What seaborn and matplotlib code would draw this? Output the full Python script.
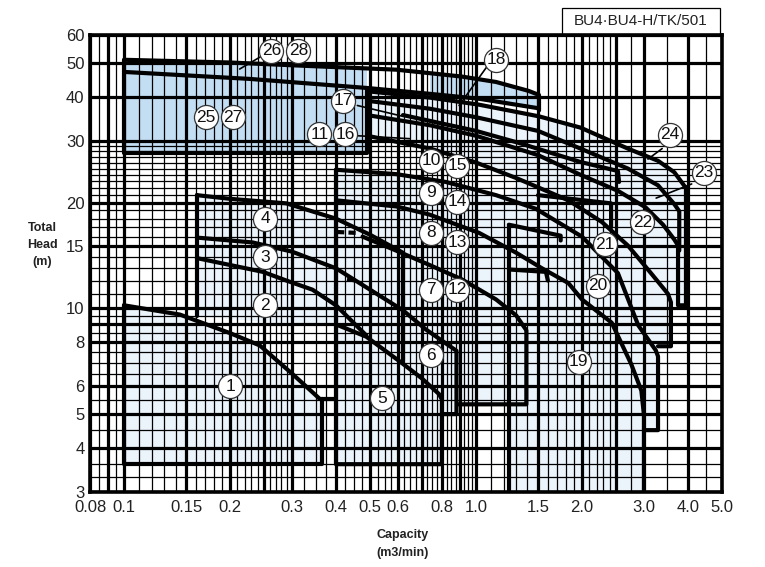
import matplotlib
matplotlib.use("Agg")
import matplotlib.pyplot as plt
import seaborn as sns
import pandas as pd
from matplotlib.patches import Rectangle, Polygon

# ---------------- data (capacity m3/min, total head m) ----------------
x_ticks = [0.08, 0.1, 0.15, 0.2, 0.3, 0.4, 0.5, 0.6, 0.8, 1.0, 1.5, 2.0, 3.0, 4.0, 5.0]
x_tick_labels = ["0.08", "0.1", "0.15", "0.2", "0.3", "0.4", "0.5", "0.6", "0.8",
                 "1.0", "1.5", "2.0", "3.0", "4.0", "5.0"]
y_ticks = [3, 4, 5, 6, 8, 10, 15, 20, 30, 40, 50, 60]
y_tick_labels = ["3", "4", "5", "6", "8", "10", "15", "20", "30", "40", "50", "60"]

x_major = [0.08, 0.09, 0.1, 0.15, 0.2, 0.25, 0.3, 0.4, 0.5, 0.6, 0.7, 0.8, 0.9, 1.0,
           1.5, 2.0, 2.5, 3.0, 4.0, 5.0]
x_minor = [0.085, 0.095, 0.11, 0.12, 0.13, 0.14, 0.16, 0.17, 0.18, 0.19, 0.21, 0.22,
           0.23, 0.24, 0.26, 0.27, 0.28, 0.29, 0.325, 0.35, 0.375, 0.425, 0.45, 0.475,
           0.525, 0.55, 0.575, 0.625, 0.65, 0.675, 0.725, 0.75, 0.775, 0.825, 0.85,
           0.875, 0.925, 0.95, 0.975, 1.1, 1.2, 1.3, 1.4, 1.6, 1.7, 1.8, 1.9, 2.1, 2.2,
           2.3, 2.4, 2.75, 3.5, 4.5]
y_major = [3, 4, 5, 6, 8, 9, 10, 15, 20, 30, 40, 50, 60]
y_minor = [3.3, 3.6, 4.5, 5.5, 6.5, 7, 7.5, 8.5, 9.5, 11, 12, 13, 14, 16, 17, 18, 19,
           21, 22, 23, 24, 25, 26, 27, 28, 29]

# pump 1
p1_q = [0.1, 0.144, 0.20, 0.243, 0.301, 0.36, 0.40]
p1_h = [10.2, 9.6, 8.5, 7.84, 6.5, 5.52, 5.52]
p1_box_q = [0.365, 0.365, 0.1, 0.1]
p1_box_h = [5.52, 3.6, 3.6, 10.2]
# pumps 2-4
p4_q = [0.161, 0.20, 0.289, 0.40, 0.50, 0.62, 0.62]
p4_h = [21.0, 20.5, 19.9, 18.0, 16.2, 14.4, 7.1]
p3_q = [0.161, 0.232, 0.30, 0.40, 0.50, 0.62, 0.72, 0.88, 0.88, 0.80]
p3_h = [15.9, 15.4, 14.5, 13.0, 11.3, 9.87, 8.71, 7.57, 5.0, 5.0]
p2_q = [0.161, 0.248, 0.289, 0.343, 0.40, 0.488]
p2_h = [13.9, 12.7, 12.0, 11.3, 10.2, 8.37]
edge24_q = [0.161, 0.161]
edge24_h = [9.5, 21.0]
# pumps 5-6
p5_q = [0.40, 0.488, 0.605, 0.70, 0.785, 0.80, 0.80, 0.40, 0.40]
p5_h = [9.0, 8.3, 7.08, 6.33, 5.7, 5.5, 3.6, 3.6, 24.8]
# pumps 7-8 / 12-13
p8_dash_q = [0.40, 0.455]
p8_dash_h = [16.5, 16.4]
p8_q = [0.476, 0.593, 0.736, 0.91, 1.14, 1.30, 1.39, 1.39, 0.89]
p8_h = [16.0, 14.6, 13.3, 12.1, 10.6, 9.55, 8.66, 5.33, 5.33]
p7_dash_q = [0.43, 0.455]
p7_dash_h = [12.1, 12.0]
# pumps 9/14 -> 19
p19_q = [0.40, 0.594, 0.736, 1.02, 1.30, 1.54, 1.83, 2.0, 2.43, 2.76, 2.95, 3.0, 3.0]
p19_h = [20.3, 19.5, 18.5, 16.4, 14.4, 13.0, 11.8, 10.6, 9.1, 6.94, 5.83, 4.97, 3.0]
# pumps 10/15 -> 20
p20_q = [0.40, 0.594, 0.82, 1.14, 1.48, 2.0, 2.53, 2.89, 3.24, 3.29, 3.29, 3.0]
p20_h = [24.8, 24.1, 22.9, 21.0, 19.2, 16.0, 12.6, 8.95, 7.6, 7.3, 4.5, 4.5]
# pump 21
p21_q = [0.49, 0.74, 1.0, 1.3, 1.83, 2.28, 2.70, 3.14, 3.51, 3.58, 3.58, 3.29]
p21_h = [31.0, 28.5, 26.0, 23.5, 20.3, 17.6, 15.1, 12.6, 11.0, 10.4, 7.8, 7.8]
# pump 22
p22_q = [0.49, 0.74, 1.0, 1.5, 1.98, 2.53, 3.03, 3.40, 3.66, 3.75, 3.75, 3.98]
p22_h = [35.5, 33.2, 31.0, 27.3, 24.0, 21.6, 19.4, 17.3, 15.7, 15.1, 10.2, 10.2]
# pump 23
p23_q = [0.49, 0.74, 1.0, 1.5, 1.98, 2.70, 3.29, 3.66, 3.78, 3.78]
p23_h = [39.0, 37.0, 35.0, 32.0, 28.5, 25.0, 22.4, 19.8, 18.9, 14.6]
# pump 24
p24_q = [0.49, 0.74, 1.02, 1.51, 1.98, 2.70, 3.29, 3.66, 3.95, 3.95]
p24_h = [41.5, 39.8, 38.0, 35.2, 32.7, 28.5, 26.3, 24.4, 22.0, 10.2]
# pumps 16/17 short curves with end hooks
p17_q = [0.62, 1.0, 1.32, 1.98, 2.53, 2.55]
p17_h = [35.5, 32.0, 29.6, 26.1, 24.6, 22.9]
hook_a_q = [1.24, 1.74, 1.74]
hook_a_h = [17.3, 16.1, 15.6]
hook_b_q = [1.24, 1.58, 1.60]
hook_b_h = [12.9, 12.7, 12.0]
hook_c_q = [1.5, 2.42, 2.42]
hook_c_h = [21.0, 19.9, 17.0]
edge19_q = [1.24, 1.24]
edge19_h = [3.0, 17.3]
# pumps 25-28 (top box) and 18
t1_q = [0.1, 0.2, 0.3, 0.594, 0.91, 1.14, 1.41, 1.51, 1.51]
t1_h = [51.0, 50.1, 49.2, 47.8, 45.7, 44.1, 41.6, 40.5, 36.6]
t2_q = [0.1, 0.227, 0.49, 0.74, 1.02, 1.51]
t2_h = [47.1, 45.0, 42.4, 40.8, 39.5, 37.1]
box_q = [0.1, 0.1, 0.49, 0.49]
box_h = [51.0, 27.6, 27.6, 42.4]

# pale fill regions
r1_q = [0.1, 0.144, 0.20, 0.243, 0.301, 0.365, 0.365, 0.1]
r1_h = [10.2, 9.6, 8.5, 7.84, 6.5, 5.52, 3.6, 3.6]
r2_q = [0.161, 0.20, 0.289, 0.40, 0.50, 0.62, 0.62, 0.488, 0.40, 0.30, 0.161]
r2_h = [21.0, 20.5, 19.9, 18.0, 16.2, 14.4, 7.1, 8.3, 9.0, 9.0, 9.5]
r5_q = [0.4, 0.4, 0.594, 0.82, 1.14, 1.39, 1.39, 0.88, 0.88, 0.80, 0.80]
r5_h = [3.6, 24.8, 24.1, 22.9, 21.0, 19.7, 5.33, 5.33, 5.0, 5.0, 3.6]
r19_q = [1.24, 1.24, 1.5, 1.98, 2.53, 3.03, 3.40, 3.75, 3.75, 3.58, 3.58, 3.29, 3.29,
         3.0, 3.0]
r19_h = [3.0, 21.0, 27.3, 24.0, 21.6, 19.4, 17.3, 15.1, 10.2, 10.2, 7.8, 7.8, 4.5,
         4.5, 3.0]
ru_q = [0.49, 0.74, 1.02, 1.51, 1.98, 2.70, 3.29, 3.66, 3.95, 3.95, 3.58, 3.51, 3.14,
        2.70, 2.28, 1.83, 1.3, 1.0, 0.74, 0.49]
ru_h = [41.5, 39.8, 38.0, 35.2, 32.7, 28.5, 26.3, 24.4, 22.0, 10.2, 10.2, 11.0, 12.6,
        15.1, 17.6, 20.3, 23.5, 26.0, 28.5, 31.0]
# blue regions
rbox_q = [0.1, 0.1, 0.2, 0.3, 0.49, 0.49]
rbox_h = [27.6, 51.0, 50.1, 49.2, 48.5, 27.6]
r18_q = [0.74, 0.91, 1.14, 1.41, 1.51, 1.51, 1.02, 0.74]
r18_h = [46.8, 45.7, 44.1, 41.6, 40.5, 37.1, 39.5, 40.8]

# circled numbers
lab_txt = ["1", "2", "3", "4", "5", "6", "7", "8", "9", "10", "11", "12", "13", "14",
           "15", "16", "17", "18", "19", "20", "21", "22", "23", "24", "25", "26",
           "27", "28"]
lab_q = [0.20, 0.252, 0.252, 0.252, 0.542, 0.745, 0.745, 0.745, 0.745, 0.745, 0.359,
         0.885, 0.885, 0.885, 0.885, 0.425, 0.42, 1.14, 1.96, 2.22, 2.33, 2.97, 4.43,
         3.56, 0.171, 0.262, 0.204, 0.313]
lab_h = [6.0, 10.2, 14.0, 18.0, 5.55, 7.36, 11.3, 16.4, 21.3, 26.3, 31.3, 11.3, 15.4,
         20.1, 25.5, 31.3, 39.0, 51.0, 7.04, 11.6, 15.2, 17.6, 24.3, 31.2, 35.0, 54.2,
         35.0, 54.2]

# leader lines from labels
ptr26_q, ptr26_h = [0.248, 0.213], [52.5, 48.0]
ptr18_q, ptr18_h = [1.07, 0.895], [48.5, 37.8]
ptr17_q, ptr17_h = [0.46, 0.62], [37.8, 35.2]
ptr16_q, ptr16_h = [0.46, 0.65], [31.0, 30.4]
ptr24_q, ptr24_h = [3.38, 3.08], [28.5, 26.6]
ptr23_q, ptr23_h = [4.1, 3.25], [22.6, 20.6]

# ---------------- drawing ----------------
sns.set_theme(style="white")
plt.rcParams["font.family"] = ["Liberation Sans Narrow", "Liberation Sans", "DejaVu Sans"]

fig = plt.figure(figsize=(7.65, 5.67), dpi=100)
ax = fig.add_axes([90 / 765, 75 / 567, 632 / 765, 457 / 567])
ax.set_xscale("log")
ax.set_yscale("log")
ax.set_xlim(0.08, 5.0)
ax.set_ylim(3, 60)

PALE = "#ebf3fb"
BLUE = "#c3def3"
for q, h, c in [(r1_q, r1_h, PALE), (r2_q, r2_h, PALE), (r5_q, r5_h, PALE),
                (r19_q, r19_h, PALE), (ru_q, ru_h, PALE),
                (rbox_q, rbox_h, BLUE), (r18_q, r18_h, BLUE)]:
    ax.add_patch(Polygon(list(zip(q, h)), closed=True, fc=c, ec="none", zorder=1))

for v in x_minor:
    ax.axvline(v, color="black", lw=0.9, zorder=2)
for v in y_minor:
    ax.axhline(v, color="black", lw=0.9, zorder=2)
for v in x_major:
    ax.axvline(v, color="black", lw=2.3, zorder=2)
for v in y_major:
    ax.axhline(v, color="black", lw=2.3, zorder=2)

curves = [(p1_q, p1_h), (p1_box_q, p1_box_h), (p4_q, p4_h), (p3_q, p3_h), (p2_q, p2_h),
          (edge24_q, edge24_h), (p5_q, p5_h), (p8_q, p8_h), (p19_q, p19_h),
          (p20_q, p20_h), (p21_q, p21_h), (p22_q, p22_h), (p23_q, p23_h),
          (p24_q, p24_h), (p17_q, p17_h), (hook_a_q, hook_a_h), (hook_b_q, hook_b_h),
          (hook_c_q, hook_c_h), (edge19_q, edge19_h), (t1_q, t1_h), (t2_q, t2_h),
          (box_q, box_h)]
for q, h in curves:
    df = pd.DataFrame({"q": q, "h": h})
    sns.lineplot(data=df, x="q", y="h", sort=False, estimator=None, color="black",
                 lw=3.0, ax=ax, zorder=3)
for q, h in [(p8_dash_q, p8_dash_h), (p7_dash_q, p7_dash_h)]:
    ax.plot(q, h, color="black", lw=3.0, ls=(0, (2, 1)), zorder=3)

for q, h in [(ptr26_q, ptr26_h), (ptr18_q, ptr18_h), (ptr17_q, ptr17_h),
             (ptr16_q, ptr16_h), (ptr24_q, ptr24_h), (ptr23_q, ptr23_h)]:
    ax.plot(q, h, color="black", lw=1.2, zorder=4)

ax.scatter(lab_q, lab_h, s=300, facecolor="white", edgecolor="#333333", lw=0.9,
           zorder=5)
for t, q, h in zip(lab_txt, lab_q, lab_h):
    ax.text(q, h, t, ha="center", va="center", fontsize=12.5, color="#111111",
            zorder=6)

ax.set_xticks(x_ticks)
ax.set_xticklabels(x_tick_labels)
ax.set_yticks(y_ticks)
ax.set_yticklabels(y_tick_labels)
ax.minorticks_off()
ax.tick_params(axis="both", length=0, labelsize=12, colors="#222222")
ax.tick_params(axis="x", pad=6)
ax.tick_params(axis="y", pad=4)
ax.set_xlabel("")
ax.set_ylabel("")
for s in ax.spines.values():
    s.set_visible(True)
    s.set_color("black")
    s.set_linewidth(2.6)
    s.set_zorder(7)

fig.text(42 / 765, 1 - 245 / 567, "Total\nHead\n(m)", ha="center", va="center",
         fontsize=9, fontweight="bold", linespacing=1.6, color="#222222")
fig.text(403 / 765, 1 - 544 / 567, "Capacity\n(m3/min)", ha="center", va="center",
         fontsize=9, fontweight="bold", linespacing=1.6, color="#222222")

fig.patches.append(Rectangle((562 / 765, 1 - 35 / 567), 158 / 765, 27 / 567,
                             transform=fig.transFigure, fill=False, ec="black",
                             lw=0.9))
fig.text(641 / 765, 1 - 21 / 567, "BU4·BU4-H/TK/501", ha="center", va="center",
         fontsize=11, color="#222222")

fig.savefig("out.png", dpi=100)
